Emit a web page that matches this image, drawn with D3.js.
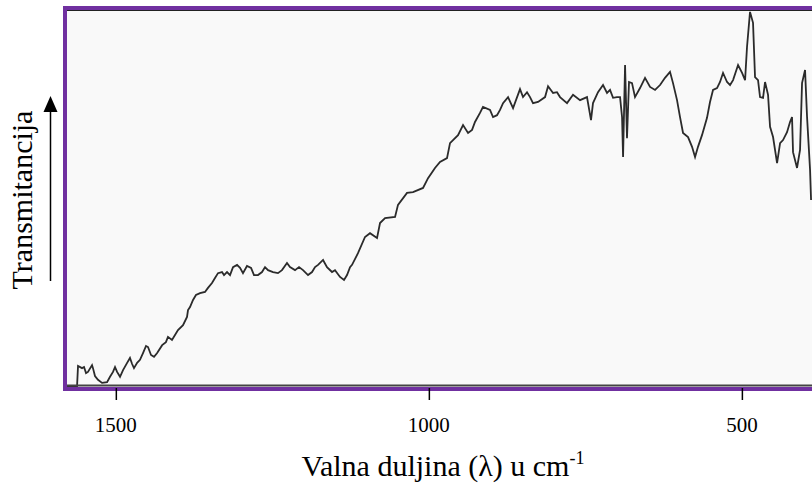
<!DOCTYPE html>
<html>
<head>
<meta charset="utf-8">
<script src="https://cdn.jsdelivr.net/npm/d3@7"></script>
<style>
  html, body { margin: 0; padding: 0; background: #fff; }
  svg { display: block; }
</style>
</head>
<body>
<svg id="chart" width="812" height="486"></svg>
<script>
// wavenumber (cm-1), left to right
const wavenumbers = [
  1578, 1562, 1560.4, 1554, 1550.8, 1547.6, 1544.5, 1538, 1536.5, 1533.3,
  1528.5, 1522, 1514, 1509.3, 1504.5, 1501.3, 1498, 1493.3, 1488.5, 1482,
  1477.4, 1474, 1471, 1466, 1461.4, 1456.6, 1451.8, 1448.6, 1443.8, 1439,
  1434, 1426, 1420, 1416.7, 1410.3, 1405.5, 1400.7, 1392.7, 1386.3, 1384.7,
  1381.5, 1376.7, 1372, 1365.5, 1357.6, 1352.8, 1346.4, 1341.6, 1336.8, 1330.4,
  1327.2, 1322.4, 1317.6, 1312.8, 1306.4, 1301.6, 1296.9, 1290.5, 1284, 1279.3,
  1272.9, 1266.5, 1261.7, 1256.9, 1248.9, 1241, 1234.6, 1226.6, 1221.8, 1213.8,
  1207.4, 1201, 1193, 1186.6, 1181.8, 1177, 1169, 1162.7, 1154.7, 1149.9,
  1141.9, 1135.5, 1130.7, 1125.9, 1122.7, 1113.2, 1102, 1094, 1082.8, 1078,
  1070, 1054, 1049.3, 1034.9, 1025.3, 1009.3, 1001.3, 990.2, 982.2, 971,
  966.2, 961.4, 953.4, 945.4, 937.4, 931, 926.3, 918.3, 913.5, 902.3,
  897.5, 891.1, 886.3, 881.5, 873.5, 865.5, 854.4, 849.6, 843.2, 838.4,
  833.6, 825.6, 814.4, 809.6, 801.6, 795.3, 790.5, 779.3, 769.7, 758.5,
  747.4, 741, 737.8, 729.8, 721.8, 715.4, 710.6, 705.8, 699.4, 694.6,
  691.4, 689.8, 686.6, 683.5, 680.3, 675.5, 670.7, 662.7, 654.7, 646.7,
  638.7, 630.7, 622.8, 614.8, 610, 603.6, 598.8, 594, 586, 579.6,
  574.8, 570.1, 563.7, 555.7, 550.9, 546.1, 539.7, 534.9, 530.1, 523.7,
  518.9, 514.1, 506.1, 499.7, 494.9, 491.8, 487, 482.2, 479, 474.2,
  471, 466.2, 463, 458.2, 455, 450.2, 443.8, 439, 434.3, 427.9,
  423.1, 419.9, 418.3, 411.9, 407.1, 403.9, 399.1, 395.9, 391.1, 389.5
];

// transmittance, relative (0 = bottom of frame, 100 = top)
const transmittance = [
  0, 0, 5.6, 5.0, 5.3, 3.7, 4.0, 5.8, 5.0, 2.9,
  1.9, 1.1, 1.3, 2.7, 4.0, 5.3, 4.0, 2.7, 4.5, 6.4,
  7.7, 6.1, 5.0, 6.4, 7.2, 9.0, 10.9, 10.6, 8.5, 8.0,
  9.0, 11.1, 11.9, 13.3, 12.5, 13.8, 15.1, 16.4, 18.6, 20.4,
  21.2, 23.1, 24.4, 24.9, 25.2, 26.3, 27.6, 28.9, 30.2, 30.5,
  29.7, 30.5, 29.7, 31.8, 32.4, 31.6, 30.2, 32.1, 31.6, 29.7,
  29.7, 30.5, 31.8, 31.0, 30.5, 30.2, 31.0, 32.9, 31.8, 31.0,
  31.8, 31.0, 29.7, 30.5, 31.8, 32.4, 33.7, 31.8, 30.5, 31.0,
  29.2, 28.4, 29.7, 31.8, 32.4, 35.5, 39.8, 40.8, 39.5, 43.5,
  44.8, 45.1, 48.3, 51.5, 51.7, 52.8, 55.4, 58.1, 59.7, 60.7,
  64.7, 65.5, 66.8, 69.5, 67.4, 68.2, 70.3, 72.7, 74.3, 73.5,
  71.6, 72.1, 73.5, 75.3, 76.9, 74.0, 79.0, 76.9, 78.2, 76.9,
  75.3, 75.6, 76.9, 79.8, 78.0, 78.2, 76.9, 75.3, 77.5, 76.1,
  76.9, 70.8, 75.3, 78.2, 80.1, 78.0, 78.8, 76.7, 76.9, 76.9,
  71.6, 61.0, 85.4, 66.0, 80.9, 80.6, 76.9, 79.3, 82.0, 79.6,
  78.8, 80.1, 82.0, 83.6, 80.6, 76.1, 71.6, 67.4, 66.3, 63.7,
  61.0, 63.7, 66.8, 71.4, 75.6, 78.8, 79.3, 80.9, 83.3, 80.9,
  80.1, 81.4, 85.4, 83.3, 81.4, 90.2, 99.5, 96.6, 82.2, 81.4,
  76.9, 76.7, 80.9, 77.5, 69.0, 66.3, 59.4, 64.7, 65.5, 67.6,
  70.3, 71.6, 62.3, 58.1, 62.9, 80.6, 84.1, 71.6, 57.6, 49.6
];

const xTicks = [1500, 1000, 500];
const xDomain = [1578, 388];
const yDomain = [0, 100];

const serif = 'Liberation Serif';

const svg = d3.select('#chart');

const plotLeft = 67, plotRight = 812, plotTop = 10, plotBottom = 387;

const x = d3.scaleLinear().domain(xDomain).range([plotLeft, plotRight]);
const y = d3.scaleLinear().domain(yDomain).range([plotBottom, plotTop]);

// plot background
svg.append('rect')
  .attr('x', plotLeft).attr('y', plotTop)
  .attr('width', plotRight - plotLeft + 10).attr('height', plotBottom - plotTop)
  .attr('fill', '#f9f9f9');

// spectrum line
const pts = wavenumbers.map((w, i) => [w, transmittance[i]]);
svg.append('path')
  .datum(pts)
  .attr('fill', 'none')
  .attr('stroke', '#2b2b2b')
  .attr('stroke-width', 1.8)
  .attr('stroke-linejoin', 'miter')
  .attr('d', d3.line().x(d => x(d[0])).y(d => y(d[1])));

// inner black lines (top and bottom)
svg.append('line')
  .attr('x1', plotLeft).attr('x2', plotRight + 5)
  .attr('y1', plotTop + 0.5).attr('y2', plotTop + 0.5)
  .attr('stroke', '#222').attr('stroke-width', 1);

svg.append('line')
  .attr('x1', plotLeft).attr('x2', plotRight + 5)
  .attr('y1', plotBottom - 1.5).attr('y2', plotBottom - 1.5)
  .attr('stroke', '#444').attr('stroke-width', 2);

// purple frame
svg.append('rect')
  .attr('x', 65).attr('y', 8)
  .attr('width', 800).attr('height', 381)
  .attr('fill', 'none')
  .attr('stroke', '#7030a0')
  .attr('stroke-width', 4);

// x axis ticks (labels drawn separately so the serif font sticks)
const xAxis = d3.axisBottom(x)
  .tickValues(xTicks)
  .tickFormat('')
  .tickSize(12)
  .tickSizeOuter(0);

const gx = svg.append('g')
  .attr('transform', `translate(0,${plotBottom + 1})`)
  .call(xAxis);
gx.select('.domain').remove();
gx.selectAll('.tick text').remove();
gx.selectAll('.tick line').attr('stroke', '#000').attr('stroke-width', 1.5);

svg.append('g')
  .selectAll('text')
  .data(xTicks)
  .join('text')
  .attr('x', d => x(d))
  .attr('y', 432)
  .attr('text-anchor', 'middle')
  .attr('font-family', serif)
  .attr('font-size', 21)
  .attr('fill', '#000')
  .text(d => d3.format('d')(d));

// x axis title
const title = svg.append('text')
  .attr('x', 443).attr('y', 476)
  .attr('text-anchor', 'middle')
  .attr('font-family', serif)
  .attr('font-size', 30)
  .attr('fill', '#000');
title.append('tspan').text('Valna duljina (λ) u cm');
title.append('tspan').attr('dy', -12).attr('font-size', 18).text('-1');

// y axis title
svg.append('text')
  .attr('transform', 'translate(32,200) rotate(-90)')
  .attr('text-anchor', 'middle')
  .attr('font-family', serif)
  .attr('font-size', 30)
  .attr('fill', '#000')
  .text('Transmitancija');

// arrow next to y title
svg.append('line')
  .attr('x1', 50.5).attr('x2', 50.5)
  .attr('y1', 281).attr('y2', 110)
  .attr('stroke', '#000').attr('stroke-width', 1.5);
svg.append('path')
  .attr('d', 'M50.5,96 L43.5,112 L57.5,112 Z')
  .attr('fill', '#000');
</script>
</body>
</html>
